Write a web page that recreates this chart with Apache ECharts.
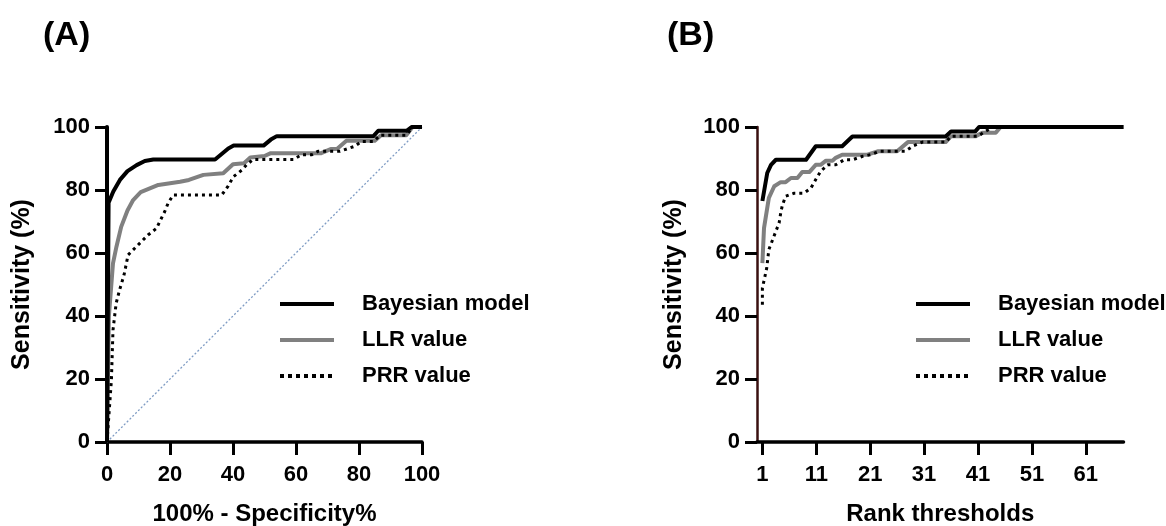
<!DOCTYPE html>
<html><head><meta charset="utf-8">
<script src="https://cdn.jsdelivr.net/npm/echarts@6/dist/echarts.min.js"></script>
<style>html,body{margin:0;padding:0;background:#fff}#c{width:1166px;height:526px}</style>
</head><body><div id="c"></div>
<script>
// ---- data ----
const seriesNames = ['Bayesian model', 'LLR value', 'PRR value'];
const panelTitles = ['(A)', '(B)'];
const axisNamesX = ['100% - Specificity%', 'Rank thresholds'];
const axisNameY = 'Sensitivity (%)';
const rankTicks = [1, 11, 21, 31, 41, 51, 61];

// Panel A: ROC curves [100-specificity, sensitivity]
const rocBayes = [[0,0],[0.5,76],[2,79.5],[4.1,83.2],[6.5,86],[9.4,87.9],[12,89.2],[14.7,89.7],[34.3,89.7],[36.5,91.5],[38.5,93.2],[40.2,94.1],[49.7,94.1],[52,96],[53.9,97.1],[84.6,97.1],[86.1,98.8],[95.1,98.8],[96.7,100],[100,100]];
const rocLLR = [[0,0],[0.6,40],[1.9,56.7],[3,62],[4.5,68.3],[6.5,73.5],[8.3,76.8],[10.7,79.3],[16.3,81.6],[23.2,82.6],[26,83.2],[30.6,84.8],[36.9,85.3],[40,88.2],[43.5,88.5],[45.5,90.3],[50,90.8],[52,91.7],[68,91.7],[71,93],[73,93],[76,95.6],[85,95.6],[87,97.4],[95,97.4],[97,100],[100,100]];
const rocPRR = [[0,0],[1.4,19.7],[1.9,35.5],[2.9,44],[4,48.3],[5.4,53],[6.7,59.4],[8.8,61.5],[10.9,63.6],[13,65.7],[15.7,67.8],[17,70.5],[18.3,73.1],[19.4,75.8],[21,78.4],[36.4,78.4],[38.5,81.3],[40.1,84.2],[42.8,86.3],[44.3,88],[46.4,89.7],[59.2,89.7],[61.8,91.2],[65,91.2],[67,92.3],[74,92.3],[78.7,93.9],[80.8,95.4],[84.6,95.4],[86.7,97.4],[95,97.4],[97,100],[100,100]];
const rocChance = [[0,0],[100,100]];

// Panel B: sensitivity by rank threshold [rank, sensitivity]
const rankBayes = [[1,76.5],[1.9,85.4],[2.6,88],[3.5,89.6],[9.1,89.6],[10.9,93.9],[15.8,93.9],[17.7,97.0],[35,97.0],[36,98.6],[40.5,98.6],[41.2,100],[68,100]];
const rankLLR = [[1,56.8],[1.3,67.9],[2.2,77.5],[3.2,81.2],[4.4,82.5],[5.3,82.5],[6.3,83.8],[7.5,83.8],[8.4,85.7],[9.7,85.7],[10.9,88.0],[11.8,88.0],[12.8,89.3],[14,89.3],[14.6,90.2],[15.8,91.2],[20.5,91.2],[22.5,92.3],[26,92.3],[28,95.2],[35,95.2],[36,97.1],[40.6,97.1],[41.8,98.2],[44.3,98.2],[45.2,100],[68,100]];
const rankPRR = [[1,43.6],[1.0,48.9],[1.4,52],[1.8,55.2],[2.2,61.1],[3.5,66.9],[4.1,69.5],[4.4,72.7],[4.7,75.1],[5.3,78.0],[6.9,79.0],[8.7,79.0],[10,80.6],[10.9,83.3],[11.8,85.9],[13.1,88.0],[14.6,88.0],[16.2,89.6],[17.7,89.6],[19.6,90.7],[21.1,91.2],[22.7,92.3],[27.5,92.3],[29,94],[30.7,95.2],[35,95.2],[36,97.1],[41,97.1],[42,98.2],[43.7,100],[68,100]];

// ---- chart ----
const FONT = '"Liberation Sans", Arial, sans-serif';
const chart = echarts.init(document.getElementById('c'), null, {renderer: 'canvas'});
const txt = (size) => ({color: '#000', fontFamily: FONT, fontWeight: 'bold', fontSize: size});
const styles = [
  {color: '#000000', width: 4, type: 'solid'},
  {color: '#808080', width: 4, type: 'solid'},
  {color: '#000000', width: 3, type: [3, 4]}
];

function yAxis(idx, gap, axColor, axW) {
  return {
    type: 'value', gridIndex: idx, min: 0, max: 100, interval: 20,
    name: axisNameY, nameLocation: 'middle', nameGap: gap, nameRotate: 90,
    nameTextStyle: txt(25),
    axisLine: {show: true, lineStyle: {color: axColor, width: axW}},
    axisTick: {show: true, length: 12, lineStyle: {color: '#000', width: 3}},
    axisLabel: Object.assign({margin: 17}, txt(22)),
    splitLine: {show: false}
  };
}

const legendData = seriesNames.map((n, i) => ({
  name: n,
  itemStyle: {opacity: 0},
  lineStyle: i === 2 ? {width: 4, type: [4, 4], color: '#000'} : {width: 4, color: styles[i].color}
}));
function legend(left) {
  return {
    left: left, top: 292, orient: 'vertical', padding: 0,
    itemWidth: 54, itemHeight: 14, itemGap: 12,
    data: legendData, selectedMode: false,
    itemStyle: {opacity: 0},
    textStyle: Object.assign({padding: [0, 0, 0, 23], lineHeight: 24}, txt(22))
  };
}

function mk(name, data, xi, i) {
  return {
    type: 'line', name: name, data: data, xAxisIndex: xi, yAxisIndex: xi,
    symbol: 'none', showSymbol: false, silent: true,
    itemStyle: {color: styles[i].color},
    lineStyle: Object.assign({join: 'round'}, styles[i])
  };
}

function xAxis(idx, max, interval, custom) {
  const ax = {
    type: 'value', gridIndex: idx, min: 0, max: max,
    name: axisNamesX[idx], nameLocation: 'middle', nameGap: 60, nameTextStyle: txt(24),
    axisLine: {show: true, lineStyle: {color: '#000', width: 3.5}},
    axisTick: {show: true, length: 13, lineStyle: {color: '#000', width: 3}},
    axisLabel: Object.assign({margin: 22}, txt(22)),
    splitLine: {show: false}
  };
  if (interval) ax.interval = interval;
  if (custom) { ax.axisTick.customValues = custom; ax.axisLabel.customValues = custom; }
  return ax;
}

chart.setOption({
  animation: false,
  backgroundColor: '#fff',
  title: [
    {text: panelTitles[0], left: 38, top: 14, textStyle: txt(34)},
    {text: panelTitles[1], left: 662, top: 14, textStyle: txt(34)}
  ],
  grid: [
    {left: 107, top: 127, width: 315, height: 315, containLabel: false, outerBoundsMode: 'none'},
    {left: 757, top: 127, width: 366.5, height: 315, containLabel: false, outerBoundsMode: 'none'}
  ],
  legend: [legend(278), legend(914)],
  xAxis: [xAxis(0, 100, 20, null), xAxis(1, 68, null, rankTicks)],
  yAxis: [yAxis(0, 72, '#000', 4), yAxis(1, 70, '#3a1010', 2.5)],
  series: [
    {type: 'line', name: 'chance', data: rocChance, xAxisIndex: 0, yAxisIndex: 0, symbol: 'none', silent: true,
     lineStyle: {color: '#7f9cc4', width: 1.3, type: [2, 2]}},
    mk(seriesNames[1], rocLLR, 0, 1),
    mk(seriesNames[0], rocBayes, 0, 0),
    mk(seriesNames[2], rocPRR, 0, 2),
    mk(seriesNames[1], rankLLR, 1, 1),
    mk(seriesNames[0], rankBayes, 1, 0),
    mk(seriesNames[2], rankPRR, 1, 2)
  ]
});
</script></body></html>
